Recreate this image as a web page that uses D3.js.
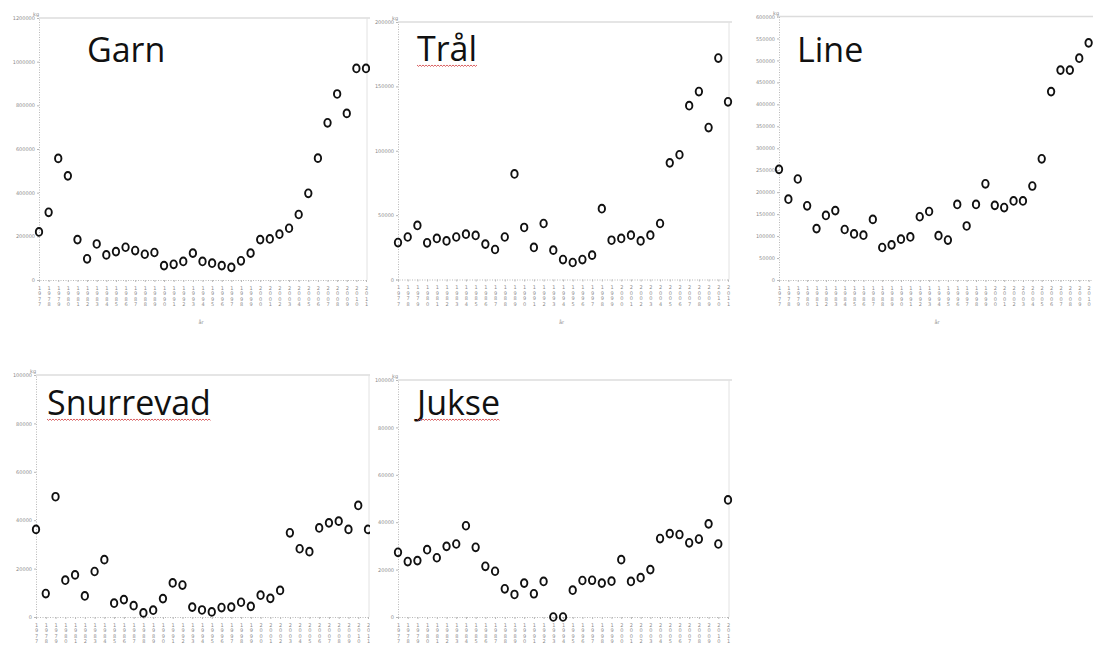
<!DOCTYPE html>
<html lang="no">
<head>
<meta charset="utf-8">
<title>Fangst etter redskap</title>
<style>
  body { margin: 0; background: #fff; }
  svg { display: block; }
  .axis text { fill: #8c8c8c; font-family: "DejaVu Sans", sans-serif; font-size: 5px; }
  .axis .domain { stroke: #b8b8b8; stroke-dasharray: 1 1.5; }
  .axis .tick line { stroke: #b8b8b8; }
  .title { font-family: "Open Sans", sans-serif; font-size: 34px; fill: #111; }
  .small { font-family: "DejaVu Sans", sans-serif; font-size: 5px; fill: #8c8c8c; }
</style>
</head>
<body>
<script src="https://d3js.org/d3.v7.min.js"></script>
<svg></svg>
<script>

// år (x-aksen)
var years = [1977, 1978, 1979, 1980, 1981, 1982, 1983, 1984, 1985, 1986,
             1987, 1988, 1989, 1990, 1991, 1992, 1993, 1994, 1995, 1996,
             1997, 1998, 1999, 2000, 2001, 2002, 2003, 2004, 2005, 2006,
             2007, 2008, 2009, 2010, 2011];

// fangst i kg, lest av bildet
var garn = [220000, 310000, 557000, 477000, 185000, 97000, 165000, 115000, 130000, 150000,
            135000, 118000, 126000, 66000, 72000, 85000, 123000, 85000, 77000, 66000,
            58000, 88000, 123000, 185000, 188000, 210000, 237000, 300000, 397000, 558000,
            720000, 852000, 763000, 969000, 969000];
var tral = [28700, 33000, 42000, 28500, 31900, 30000, 33000, 35200, 34200, 27500,
            23300, 33000, 82000, 40400, 24900, 43500, 22800, 15500, 13200, 15500,
            18900, 55000, 30500, 31900, 34400, 30000, 34400, 43500, 90600, 96900,
            135000, 146000, 118000, 172000, 138000];
var line = [252000, 184000, 230000, 169000, 117000, 147000, 158000, 115000, 105000, 102000,
            138000, 74000, 80000, 93000, 98000, 144000, 156000, 101000, 91000, 172000,
            123000, 172000, 219000, 170000, 165000, 180000, 180000, 214000, 276000, 429000,
            478000, 478000, 505000, 540000, 560000];
var snurrevad = [36200, 9700, 49700, 15200, 17400, 8700, 18800, 23700, 5700, 7200,
                 4700, 1700, 2800, 7600, 14100, 13200, 4100, 2900, 2100, 3900,
                 4100, 6100, 4400, 9000, 7700, 11000, 34800, 28200, 27000, 36800,
                 38900, 39600, 36200, 46100, 36200];
var jukse = [27300, 23400, 23800, 28400, 25000, 29800, 30800, 38500, 29400, 21400,
             19300, 11900, 9500, 14300, 9800, 15000, 0, 0, 11300, 15400,
             15500, 14300, 15100, 24200, 15000, 16600, 20000, 33100, 35200, 34800,
             31300, 32900, 39300, 30800, 49400];

// y-akse ticks
var garnTicks = [0, 200000, 400000, 600000, 800000, 1000000, 1200000];
var tralTicks = [0, 50000, 100000, 150000, 200000];
var lineTicks = [0, 50000, 100000, 150000, 200000, 250000, 300000, 350000, 400000, 450000, 500000, 550000, 600000];
var snurrTicks = [0, 20000, 40000, 60000, 80000, 100000];
var jukseTicks = [0, 20000, 40000, 60000, 80000, 100000];

var width = 1093, height = 657;

var svg = d3.select('svg')
            .attr('width', width)
            .attr('height', height);

// hvert panel er et eget "bilde" på sliden
var panels = [
  {name: 'Garn', data: garn, ticks: garnTicks, x0: 39, x1: 366, y0: 18, y1: 280,
   clip: [0, 0, 370, 340], tx: 87, ty: 62, wavy: false},
  {name: 'Trål', data: tral, ticks: tralTicks, x0: 398, x1: 728, y0: 22, y1: 279.5,
   clip: [370, 0, 365, 340], tx: 417, ty: 61, wavy: true},
  {name: 'Line', data: line, ticks: lineTicks, x0: 779, x1: 1098, y0: 16.5, y1: 280,
   clip: [735, 0, 358, 340], tx: 797, ty: 62, wavy: false},
  {name: 'Snurrevad', data: snurrevad, ticks: snurrTicks, x0: 36, x1: 368, y0: 375, y1: 617,
   clip: [0, 360, 370, 297], tx: 47, ty: 415, wavy: true},
  {name: 'Jukse', data: jukse, ticks: jukseTicks, x0: 398, x1: 728, y0: 380, y1: 617,
   clip: [370, 360, 365, 297], tx: 417, ty: 415, wavy: true}
];

panels.forEach(function(p, k) {
  var clipId = 'clip' + k;
  svg.append('clipPath').attr('id', clipId)
     .append('rect')
     .attr('x', p.clip[0]).attr('y', p.clip[1])
     .attr('width', p.clip[2]).attr('height', p.clip[3]);

  var g = svg.append('g').attr('clip-path', 'url(#' + clipId + ')');

  var x = d3.scalePoint().domain(years).range([p.x0, p.x1]);
  var y = d3.scaleLinear().domain([0, d3.max(p.ticks)]).range([p.y1, p.y0]);

  // ramme oppe og til høyre
  g.append('line')
   .attr('x1', p.x0).attr('x2', p.x1 + 4)
   .attr('y1', p.y0).attr('y2', p.y0)
   .attr('stroke', '#dcdcdc').attr('stroke-width', 1.5);
  g.append('line')
   .attr('x1', p.x1 + 1).attr('x2', p.x1 + 1)
   .attr('y1', p.y0).attr('y2', p.y1)
   .attr('stroke', '#e2e2e2').attr('stroke-width', 1);

  // y-akse
  g.append('g')
   .attr('class', 'axis')
   .attr('transform', 'translate(' + p.x0 + ',0)')
   .call(d3.axisLeft(y).tickValues(p.ticks).tickSize(2).tickPadding(2).tickFormat(d3.format('d')));

  // x-akse, sifrene stablet loddrett
  var xa = g.append('g')
   .attr('class', 'axis')
   .attr('transform', 'translate(0,' + p.y1 + ')')
   .call(d3.axisBottom(x).tickSize(2).tickPadding(3).tickFormat(function(d) { return d; }));
  xa.selectAll('.tick text').each(function(d) {
    var t = d3.select(this);
    t.text(null);
    // etiketter som havner utenfor sliden tegnes ikke
    if (x(d) > width - 3) return;
    String(d).split('').forEach(function(c, i) {
      t.append('tspan').attr('x', 0).attr('dy', i === 0 ? '0.9em' : '1.1em').text(c);
    });
  });

  g.append('text').attr('class', 'small')
   .attr('x', p.x0 - 6).attr('y', p.y0 - 2)
   .text('kg');
  // aksetittel "år" ligger under sliden for nederste rad
  if (p.y1 + 44 < height - 2) {
    g.append('text').attr('class', 'small')
     .attr('x', (p.x0 + p.x1) / 2 - 4).attr('y', p.y1 + 44)
     .text('år');
  }

  // punktene
  g.selectAll('ellipse')
   .data(p.data)
   .enter()
   .append('ellipse')
   .attr('cx', function(d, i) { return x(years[i]); })
   .attr('cy', function(d) { return y(d); })
   .attr('rx', 3.2)
   .attr('ry', 3.9)
   .attr('fill', 'none')
   .attr('stroke', '#111')
   .attr('stroke-width', 1.9);

  // tittel
  var title = svg.append('text')
     .attr('class', 'title')
     .attr('x', p.tx).attr('y', p.ty)
     .text(p.name);

  // rød stavekontroll-strek
  if (p.wavy) {
    var w = title.node().getComputedTextLength();
    var pts = [];
    for (var s = 0; s <= w; s += 1.5) {
      pts.push([p.tx + s, p.ty + 4 + ((s / 1.5) % 2 === 0 ? 0 : 1.4)]);
    }
    svg.append('path')
       .attr('d', d3.line()(pts))
       .attr('fill', 'none')
       .attr('stroke', '#d0383a')
       .attr('stroke-width', 0.8);
  }
});

</script>
</body>
</html>
